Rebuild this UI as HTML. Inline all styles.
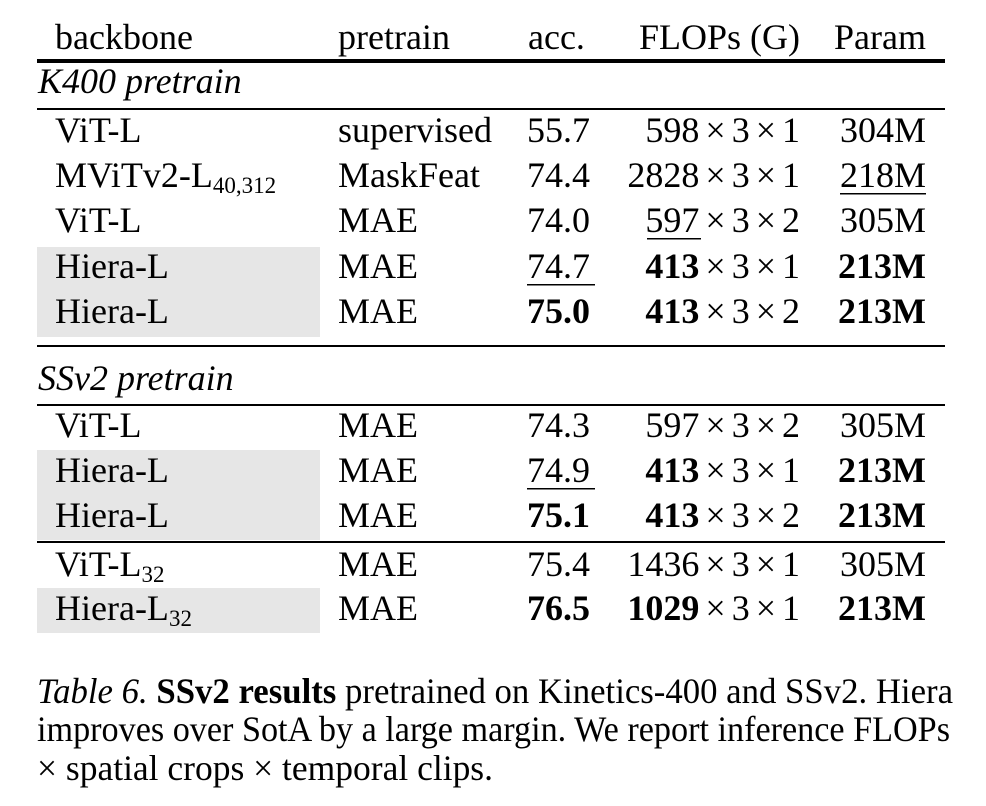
<!DOCTYPE html>
<html><head><meta charset="utf-8"><style>
html,body{margin:0;padding:0;background:#fff;}
svg{display:block;}
text{font-family:"Liberation Serif",serif;font-size:36px;fill:#000;}
.b{font-weight:bold;}
.i{font-style:italic;}
</style></head><body>
<svg width="986" height="806" xmlns="http://www.w3.org/2000/svg">
<rect x="37" y="247" width="283" height="90" fill="#e6e6e6"/>
<rect x="37" y="450" width="283" height="90" fill="#e6e6e6"/>
<rect x="37" y="588" width="283" height="45" fill="#e6e6e6"/>
<rect x="37" y="59" width="908" height="4" fill="#000"/>
<rect x="37" y="108" width="908" height="2" fill="#000"/>
<rect x="37" y="345" width="908" height="2" fill="#000"/>
<rect x="37" y="404" width="908" height="2" fill="#000"/>
<rect x="37" y="541" width="908" height="2" fill="#000"/>

<text x="55" y="49">backbone</text>
<text x="338" y="49">pretrain</text>
<text x="528" y="49">acc.</text>
<text x="800" y="49" text-anchor="end">FLOPs (G)</text>
<text x="926" y="49" text-anchor="end">Param</text>

<text x="38" y="93" class="i">K400 pretrain</text>

<text x="55" y="142">ViT-L</text><text x="338" y="142">supervised</text><text x="527" y="142">55.7</text><text x="800" y="142" text-anchor="end">598<tspan dx="6">×</tspan><tspan dx="6">3</tspan><tspan dx="6">×</tspan><tspan dx="6">1</tspan></text><text x="926" y="142" text-anchor="end">304M</text>
<text x="55" y="187">MViTv2-L<tspan font-size="23" dy="6">40,312</tspan></text><text x="338" y="187">MaskFeat</text><text x="527" y="187">74.4</text><text x="800" y="187" text-anchor="end">2828<tspan dx="6">×</tspan><tspan dx="6">3</tspan><tspan dx="6">×</tspan><tspan dx="6">1</tspan></text><text x="926" y="187" text-anchor="end">218M</text>
<rect x="840" y="193" width="86" height="1.5" fill="#000"/>
<text x="55" y="232">ViT-L</text><text x="338" y="232">MAE</text><text x="527" y="232">74.0</text><text x="800" y="232" text-anchor="end">597<tspan dx="6">×</tspan><tspan dx="6">3</tspan><tspan dx="6">×</tspan><tspan dx="6">2</tspan></text><text x="926" y="232" text-anchor="end">305M</text>
<rect x="647" y="238" width="54" height="1.5" fill="#000"/>
<text x="55" y="278">Hiera-L</text><text x="338" y="278">MAE</text><text x="527" y="278">74.7</text><text x="800" y="278" text-anchor="end"><tspan class="b">413</tspan><tspan dx="6">×</tspan><tspan dx="6">3</tspan><tspan dx="6">×</tspan><tspan dx="6">1</tspan></text><text x="926" y="278" text-anchor="end" class="b">213M</text>
<rect x="527" y="284" width="68" height="1.5" fill="#000"/>
<text x="55" y="323">Hiera-L</text><text x="338" y="323">MAE</text><text x="527" y="323" class="b">75.0</text><text x="800" y="323" text-anchor="end"><tspan class="b">413</tspan><tspan dx="6">×</tspan><tspan dx="6">3</tspan><tspan dx="6">×</tspan><tspan dx="6">2</tspan></text><text x="926" y="323" text-anchor="end" class="b">213M</text>

<text x="38" y="390" class="i">SSv2 pretrain</text>

<text x="55" y="437">ViT-L</text><text x="338" y="437">MAE</text><text x="527" y="437">74.3</text><text x="800" y="437" text-anchor="end">597<tspan dx="6">×</tspan><tspan dx="6">3</tspan><tspan dx="6">×</tspan><tspan dx="6">2</tspan></text><text x="926" y="437" text-anchor="end">305M</text>
<text x="55" y="482">Hiera-L</text><text x="338" y="482">MAE</text><text x="527" y="482">74.9</text><text x="800" y="482" text-anchor="end"><tspan class="b">413</tspan><tspan dx="6">×</tspan><tspan dx="6">3</tspan><tspan dx="6">×</tspan><tspan dx="6">1</tspan></text><text x="926" y="482" text-anchor="end" class="b">213M</text>
<rect x="527" y="488" width="68" height="1.5" fill="#000"/>
<text x="55" y="527">Hiera-L</text><text x="338" y="527">MAE</text><text x="527" y="527" class="b">75.1</text><text x="800" y="527" text-anchor="end"><tspan class="b">413</tspan><tspan dx="6">×</tspan><tspan dx="6">3</tspan><tspan dx="6">×</tspan><tspan dx="6">2</tspan></text><text x="926" y="527" text-anchor="end" class="b">213M</text>
<text x="55" y="576">ViT-L<tspan font-size="23" dy="6">32</tspan></text><text x="338" y="576">MAE</text><text x="527" y="576">75.4</text><text x="800" y="576" text-anchor="end">1436<tspan dx="6">×</tspan><tspan dx="6">3</tspan><tspan dx="6">×</tspan><tspan dx="6">1</tspan></text><text x="926" y="576" text-anchor="end">305M</text>
<text x="55" y="620">Hiera-L<tspan font-size="23" dy="6">32</tspan></text><text x="338" y="620">MAE</text><text x="527" y="620" class="b">76.5</text><text x="800" y="620" text-anchor="end"><tspan class="b">1029</tspan><tspan dx="6">×</tspan><tspan dx="6">3</tspan><tspan dx="6">×</tspan><tspan dx="6">1</tspan></text><text x="926" y="620" text-anchor="end" class="b">213M</text>

<text x="37" y="703" font-size="31" textLength="916" lengthAdjust="spacingAndGlyphs"><tspan class="i">Table 6.</tspan> <tspan class="b">SSv2 results</tspan> pretrained on Kinetics-400 and SSv2. Hiera</text>
<text x="37" y="741" font-size="31" textLength="913" lengthAdjust="spacingAndGlyphs">improves over SotA by a large margin. We report inference FLOPs</text>
<text x="37" y="780" font-size="31" textLength="456" lengthAdjust="spacingAndGlyphs">× spatial crops × temporal clips.</text>
</svg>
</body></html>
